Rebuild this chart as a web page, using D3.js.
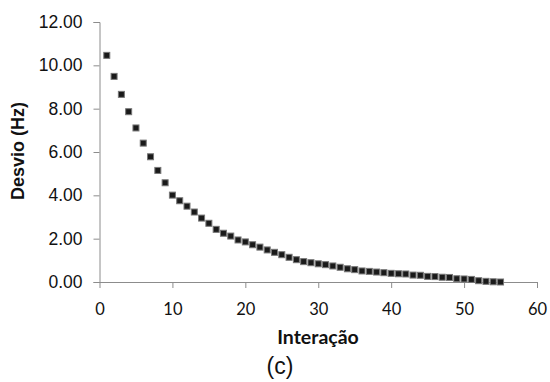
<!DOCTYPE html>
<html>
<head>
<meta charset="utf-8">
<script src="https://cdn.jsdelivr.net/npm/d3@7"></script>
<style>
  body { margin: 0; background: #fff; }
</style>
</head>
<body>
<div id="chart"></div>
<script>
// interações 1..55
const interacoes = d3.range(1, 56);
const desvio = [
    10.46, 9.49, 8.66, 7.86, 7.11, 6.41, 5.78, 5.15, 4.58, 4.01,
    3.75, 3.50, 3.23, 2.95, 2.71, 2.43, 2.25, 2.12, 1.94, 1.85,
    1.72, 1.61, 1.48, 1.37, 1.26, 1.14, 1.03, 0.94, 0.89, 0.84,
    0.80, 0.74, 0.68, 0.61, 0.57, 0.51, 0.49, 0.46, 0.43, 0.40,
    0.38, 0.37, 0.32, 0.31, 0.26, 0.25, 0.22, 0.21, 0.15, 0.14,
    0.12, 0.06, 0.03, 0.01, 0.00
];
const xTicks = [0, 10, 20, 30, 40, 50, 60];
const yTicks = [0, 2, 4, 6, 8, 10, 12];

const width = 550;
const height = 382;
const margin = { top: 22, right: 13, bottom: 100, left: 99.5 };

const svg = d3.select("#chart")
    .append("svg")
    .attr("width", width)
    .attr("height", height);

const x = d3.scaleLinear()
    .domain([0, 60])
    .range([margin.left, width - margin.right]);

const y = d3.scaleLinear()
    .domain([0, 12])
    .range([height - margin.bottom, margin.top]);

const axisColor = "#8c8c8c";

// eixo y
const yAxis = svg.append("g")
    .attr("transform", `translate(${margin.left},0)`)
    .call(d3.axisLeft(y).tickValues(yTicks).tickSize(6).tickPadding(11).tickFormat(d3.format(".2f")));
yAxis.select(".domain").attr("stroke", axisColor);
yAxis.selectAll(".tick line").attr("stroke", axisColor);
yAxis.selectAll("text")
    .attr("font-family", "Liberation Sans, Arial, sans-serif")
    .attr("font-size", "17.5px")
    .attr("fill", "#111");

// eixo x
const xAxis = svg.append("g")
    .attr("transform", `translate(0,${y(0)})`)
    .call(d3.axisBottom(x).tickValues(xTicks).tickSize(6).tickPadding(15).tickSizeOuter(0));
xAxis.select(".domain").attr("stroke", axisColor);
xAxis.selectAll(".tick line").attr("stroke", axisColor);
xAxis.selectAll("text")
    .attr("font-family", "Lato, sans-serif")
    .attr("font-size", "16.5px")
    .attr("fill", "#111");

// pontos
svg.append("g")
    .selectAll("rect")
    .data(interacoes)
    .enter()
    .append("rect")
    .attr("x", (d) => x(d) - 3)
    .attr("y", (d, i) => y(desvio[i]) - 3)
    .attr("width", 6)
    .attr("height", 6)
    .attr("fill", "#1a1a1a")
    .attr("stroke", "#777")
    .attr("stroke-width", 1);

// títulos
svg.append("text")
    .attr("x", 318)
    .attr("y", 344)
    .attr("text-anchor", "middle")
    .attr("font-family", "Lato, sans-serif")
    .attr("font-weight", "bold")
    .attr("font-size", "19.5px")
    .attr("fill", "#111")
    .text("Interação");

svg.append("text")
    .attr("transform", "translate(24,151) rotate(-90)")
    .attr("text-anchor", "middle")
    .attr("font-family", "Liberation Sans, Arial, sans-serif")
    .attr("font-weight", "bold")
    .attr("font-size", "18px")
    .attr("fill", "#111")
    .text("Desvio (Hz)");

svg.append("text")
    .attr("x", 280)
    .attr("y", 374)
    .attr("text-anchor", "middle")
    .attr("font-family", "Liberation Sans, Arial, sans-serif")
    .attr("font-size", "23px")
    .attr("fill", "#111")
    .text("(c)");
</script>
</body>
</html>
